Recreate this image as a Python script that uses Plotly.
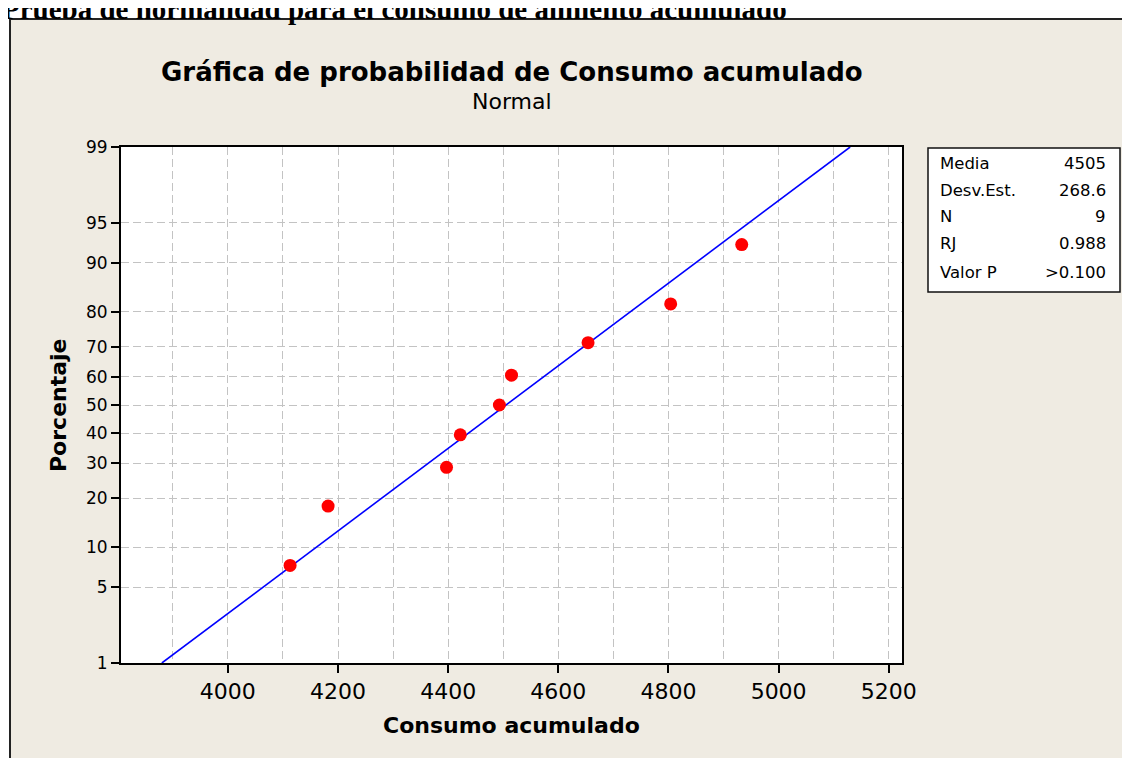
import plotly.graph_objects as go
from statistics import NormalDist

# ---- data ----
consumo = [4113, 4182, 4397, 4422, 4493, 4515, 4654, 4804, 4933]
porcentaje = [7.4, 18.1, 28.7, 39.4, 50.0, 60.6, 71.3, 81.9, 92.6]
media = 4505
desv_est = 268.6
linea_pct = [1, 99]
y_ticks_pct = [1, 5, 10, 20, 30, 40, 50, 60, 70, 80, 90, 95, 99]
x_ticks = [4000, 4200, 4400, 4600, 4800, 5000, 5200]
stat_labels = ["Media", "Desv.Est.", "N", "RJ", "Valor P"]
stat_values = ["4505", "268.6", "9", "0.988", ">0.100"]

nd = NormalDist()
def z(p):
    return nd.inv_cdf(p / 100.0)

OFF = 8  # page body margin
W, H = 1130 - OFF, 758 - OFF
L, R, T, B = 121, 902, 147, 663   # plot area in screen pixels
pw, ph = R - L, B - T
def px(xp):
    return (xp - L) / pw
def py(yp):
    return (B - yp) / ph

FONT = "DejaVu Sans"
BEIGE = "#EFEBE2"
GRID = "#C3C3C3"

fig = go.Figure()

line_z = [z(p) for p in linea_pct]
line_x = [media + desv_est * zz for zz in line_z]
fig.add_trace(go.Scatter(x=line_x, y=line_z, mode="lines",
                         line=dict(color="#0000FF", width=1.6),
                         hoverinfo="skip", showlegend=False))
fig.add_trace(go.Scatter(x=consumo, y=[z(p) for p in porcentaje], mode="markers",
                         marker=dict(color="#FF0000", size=13, line=dict(width=0)),
                         showlegend=False))

shapes = [
    dict(type="rect", xref="paper", yref="paper", layer="below",
         x0=px(10), x1=px(1160), y0=py(19), y1=py(800),
         fillcolor=BEIGE, line=dict(color="#222222", width=2)),
    dict(type="rect", xref="paper", yref="paper", layer="below",
         x0=0, x1=1, y0=0, y1=1, fillcolor="white", line=dict(width=0)),
    dict(type="rect", xref="paper", yref="paper", layer="below",
         x0=px(928), x1=px(1120), y0=py(292), y1=py(148),
         fillcolor="white", line=dict(width=0)),
    dict(type="rect", xref="paper", yref="paper", layer="above",
         x0=px(928), x1=px(1120), y0=py(292), y1=py(148),
         fillcolor="rgba(0,0,0,0)", line=dict(color="#111111", width=1.5)),
]

annotations = [
    dict(text="<b>Prueba de normalidad para el consumo de alimento acumulado</b>",
         xref="paper", yref="paper", x=px(0), y=py(9), xanchor="left", yanchor="middle",
         showarrow=False, font=dict(family="Liberation Serif", size=29, color="black")),
    dict(text="<b>Gráfica de probabilidad de Consumo acumulado</b>",
         xref="paper", yref="paper", x=0.5, y=py(72), xanchor="center", yanchor="middle",
         showarrow=False, font=dict(family=FONT, size=26, color="black")),
    dict(text="Normal", xref="paper", yref="paper", x=0.5, y=py(101),
         xanchor="center", yanchor="middle", showarrow=False,
         font=dict(family=FONT, size=22, color="black")),
    dict(text="<b>Consumo acumulado</b>", xref="paper", yref="paper", x=0.5, y=py(725),
         xanchor="center", yanchor="middle", showarrow=False,
         font=dict(family=FONT, size=22, color="black")),
    dict(text="<b>Porcentaje</b>", xref="paper", yref="paper", x=px(58), y=0.5,
         xanchor="center", yanchor="middle", textangle=-90, showarrow=False,
         font=dict(family=FONT, size=22, color="black")),
]
row_y = [163, 190, 216, 243, 272]
for lab, val, ry in zip(stat_labels, stat_values, row_y):
    annotations.append(dict(text=lab, xref="paper", yref="paper", x=px(938), y=py(ry),
                            xanchor="left", yanchor="middle", showarrow=False,
                            font=dict(family=FONT, size=16.5, color="black")))
    annotations.append(dict(text=val, xref="paper", yref="paper", x=px(1108), y=py(ry),
                            xanchor="right", yanchor="middle", showarrow=False,
                            font=dict(family=FONT, size=16.5, color="black")))

fig.update_layout(
    width=W, height=H,
    margin=dict(l=L - OFF, r=W - (R - OFF), t=T - OFF, b=H - (B - OFF)),
    paper_bgcolor="white", plot_bgcolor="white",
    shapes=shapes, annotations=annotations,
    showlegend=False,
    xaxis=dict(range=[3806, 5224], tickvals=x_ticks, ticktext=[str(v) for v in x_ticks],
               showline=True, linecolor="black", linewidth=2, mirror=True,
               ticks="outside", ticklen=8, tickwidth=2, tickcolor="black",
               showgrid=True, gridcolor=GRID, gridwidth=1.4, griddash="8px,4px",
               minor=dict(tick0=3900, dtick=100, showgrid=True, gridcolor=GRID,
                          gridwidth=1.4, griddash="8px,4px", ticks=""),
               zeroline=False,
               tickfont=dict(family=FONT, size=22, color="black")),
    yaxis=dict(range=[z(1), z(99)], tickvals=[z(p) for p in y_ticks_pct],
               ticktext=[str(p) for p in y_ticks_pct],
               showline=True, linecolor="black", linewidth=2, mirror=True,
               ticks="outside", ticklen=8, tickwidth=2, tickcolor="black",
               showgrid=True, gridcolor=GRID, gridwidth=1.4, griddash="8px,4px",
               zeroline=False,
               tickfont=dict(family=FONT, size=17, color="black")),
)

fig.write_html("out.html")
